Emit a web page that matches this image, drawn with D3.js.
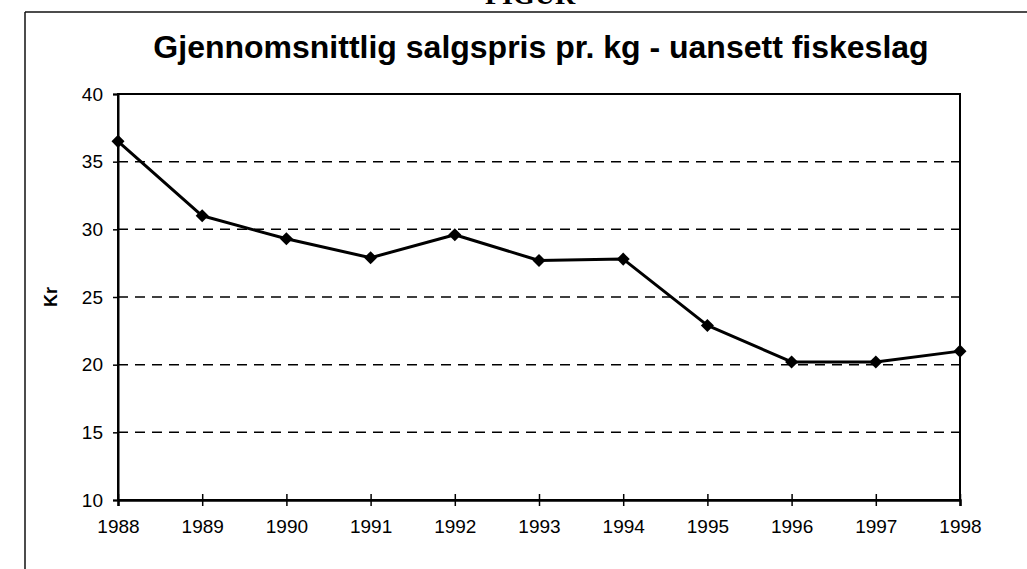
<!DOCTYPE html>
<html>
<head>
<meta charset="utf-8">
<script src="https://cdn.jsdelivr.net/npm/d3@7"></script>
<style>
  body { margin: 0; background: #fff; }
  svg { display: block; font-family: "Liberation Sans", Arial, sans-serif; }
</style>
</head>
<body>
<script>
// data
const years = [1988, 1989, 1990, 1991, 1992, 1993, 1994, 1995, 1996, 1997, 1998];
const prices = [36.5, 31.0, 29.3, 27.9, 29.6, 27.7, 27.8, 22.9, 20.2, 20.2, 21.0];
const yTicks = [10, 15, 20, 25, 30, 35, 40];
const gridValues = [15, 20, 25, 30, 35];

const w = 1027;
const h = 569;

const svg = d3.select("body").append("svg").attr("width", w).attr("height", h);

// outer page frame (left + top edges of the scanned box)
svg.append("line").attr("x1", 25).attr("x2", 25).attr("y1", 12).attr("y2", h)
    .attr("stroke", "#111").attr("stroke-width", 1.5);
svg.append("line").attr("x1", 25).attr("x2", w).attr("y1", 12).attr("y2", 12)
    .attr("stroke", "#111").attr("stroke-width", 1.5);

// heading cut off at top of scan
svg.append("text").attr("x", 530).attr("y", 4).attr("text-anchor", "middle")
    .style("font-family", "'Liberation Serif', serif").style("font-weight", "bold")
    .style("font-size", "28px").text("FIGUR");

// title
svg.append("text").attr("x", 541).attr("y", 58).attr("text-anchor", "middle")
    .style("font-weight", "bold").style("font-size", "32px")
    .text("Gjennomsnittlig salgspris pr. kg - uansett fiskeslag");

const x = d3.scaleLinear().domain([1988, 1998]).range([118, 960]);
const y = d3.scaleLinear().domain([10, 40]).range([500, 94]);

// dashed gridlines
svg.append("g").selectAll("line")
    .data(gridValues)
    .enter()
    .append("line")
    .attr("x1", x(1988)).attr("x2", x(1998))
    .attr("y1", d => y(d)).attr("y2", d => y(d))
    .attr("stroke", "#000").attr("stroke-width", 1.5)
    .attr("stroke-dasharray", "10,7");

// plot frame
svg.append("rect")
    .attr("x", x(1988)).attr("y", y(40))
    .attr("width", x(1998) - x(1988)).attr("height", y(10) - y(40))
    .attr("fill", "none").attr("stroke", "#000").attr("stroke-width", 2);

// y axis
const yAxis = d3.axisLeft(y).tickValues(yTicks).tickSize(5).tickPadding(10);
const gy = svg.append("g")
    .attr("transform", "translate(" + x(1988) + ",0)")
    .call(yAxis);
gy.select(".domain").attr("stroke-width", 2);
gy.selectAll("line").attr("stroke-width", 1.5);
gy.selectAll("text").style("font-size", "19px").attr("fill", "#000");

// x axis, ticks cross the line
const xAxis = d3.axisBottom(x).tickValues(years).tickFormat(d3.format("d")).tickSize(6);
const gx = svg.append("g")
    .attr("transform", "translate(0," + y(10) + ")")
    .call(xAxis);
gx.select(".domain").attr("stroke-width", 2.5);
gx.selectAll("line").attr("y1", -6).attr("y2", 6).attr("stroke-width", 1.5);
gx.selectAll("text").attr("y", 33).attr("dy", 0).style("font-size", "19px").attr("fill", "#000");

// axis title
svg.append("text")
    .attr("transform", "translate(57,297) rotate(-90)")
    .attr("text-anchor", "middle")
    .style("font-weight", "bold").style("font-size", "18px")
    .text("Kr");

// the series
const line = d3.line().x((d, i) => x(years[i])).y(d => y(d));
svg.append("path")
    .datum(prices)
    .attr("d", line)
    .attr("fill", "none").attr("stroke", "#000").attr("stroke-width", 3)
    .attr("stroke-linejoin", "round");

svg.append("g").selectAll("path")
    .data(prices)
    .enter()
    .append("path")
    .attr("d", d3.symbol().type(d3.symbolSquare).size(85))
    .attr("transform", (d, i) => "translate(" + x(years[i]) + "," + y(d) + ") rotate(45)")
    .attr("fill", "#000");
</script>
</body>
</html>
